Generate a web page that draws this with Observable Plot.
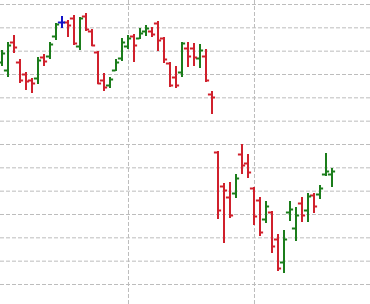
<!DOCTYPE html>
<html>
<head>
<meta charset="utf-8">
<script src="https://cdn.jsdelivr.net/npm/d3@7"></script>
<script src="https://cdn.jsdelivr.net/npm/@observablehq/plot@0.6"></script>
<style>
  html, body { margin: 0; padding: 0; background: #fff; }
  #chart svg { display: block; }
</style>
</head>
<body>
<div id="chart"></div>
<script>
// Trading-day index of each bar
const days = d3.range(56);
const open = [166.6,164.2,172.6,166.6,163.0,161.2,161.8,168.1,168.4,174.4,178.6,178.6,179.8,171.4,180.4,175.9,169.6,161.2,159.7,164.2,167.8,171.4,174.4,173.8,175.9,175.9,178.3,173.8,166.3,162.1,163.6,170.8,170.8,167.8,168.4,157.0,139.6,129.4,126.1,127.3,139.0,136.3,128.8,125.2,119.5,121.6,113.5,106.6,121.6,116.8,124.3,122.2,126.7,127.0,133.0,133.0];
const high = [170.2,172.6,174.7,167.5,163.6,161.8,168.1,169.0,172.6,178.3,180.4,179.2,180.7,180.1,181.3,176.5,169.9,163.3,162.1,167.5,173.8,174.7,175.0,176.8,177.7,177.1,178.9,174.1,166.6,165.4,172.6,172.6,172.3,172.0,170.5,157.9,139.9,130.3,130.6,133.0,142.0,139.0,129.1,126.1,124.9,121.9,115.0,116.2,124.9,123.1,126.1,127.3,127.3,129.7,139.3,134.8];
const low = [165.4,162.1,169.3,160.3,158.2,157.3,160.0,165.4,167.5,173.2,176.8,174.1,171.7,170.2,175.9,171.4,160.0,157.9,158.8,163.9,166.9,170.5,166.6,173.5,174.4,174.1,169.9,166.3,159.1,158.8,162.1,165.1,165.4,164.8,160.6,151.0,119.5,112.3,119.8,125.8,133.0,131.8,117.7,114.4,118.3,109.3,103.9,103.3,118.9,112.9,118.6,118.6,121.3,125.5,132.4,129.1];
const close = [169.3,171.7,171.1,161.2,160.9,160.3,167.2,166.9,172.0,178.0,178.6,177.7,172.3,179.8,176.5,171.7,160.3,159.1,161.5,166.6,172.6,173.8,171.7,175.3,176.8,175.0,173.2,167.5,159.7,159.7,172.3,168.4,168.1,170.2,161.2,156.1,122.2,128.2,120.7,131.8,135.7,133.6,120.4,115.6,123.4,111.4,104.8,113.5,122.5,120.7,120.7,126.4,123.4,128.8,133.9,133.9];
// Price gridlines and month-start gridlines (trading-day index)
const priceGrid = d3.range(100, 185, 7);
const monthStarts = [21, 42];

const bars = days.map((d, k) => ({
  day: d, open: open[k], high: high[k], low: low[k], close: close[k]
}));
const colorOf = (b) => b.close > b.open ? "#1b7d1b" : b.close < b.open ? "#d0202c" : "#1414c8";

const chart = Plot.plot({
  width: 370,
  height: 304,
  margin: 0,
  style: { background: "#fff", overflow: "visible" },
  x: { type: "linear", domain: [-0.25, 61.4167], range: [0, 370], axis: null },
  y: { type: "linear", domain: [94.0, 185.2], range: [304, 0], axis: null },
  marks: [
    Plot.ruleY(priceGrid, { y: d => d, stroke: "#bdbdbd", strokeWidth: 1, strokeDasharray: "4,2" }),
    Plot.ruleX(monthStarts, { x: d => d, dx: 0.5, stroke: "#bdbdbd", strokeWidth: 1, strokeDasharray: "4,2" }),
    Plot.ruleX(bars, { x: "day", y1: "low", y2: "high", stroke: colorOf, strokeWidth: 2 }),
    Plot.ruleY(bars, { y: "open", x1: d => d.day - 0.6, x2: d => d.day, stroke: colorOf, strokeWidth: 2 }),
    Plot.ruleY(bars, { y: "close", x1: d => d.day, x2: d => d.day + 0.6, stroke: colorOf, strokeWidth: 2 })
  ]
});
document.getElementById("chart").appendChild(chart);
</script>
</body>
</html>
